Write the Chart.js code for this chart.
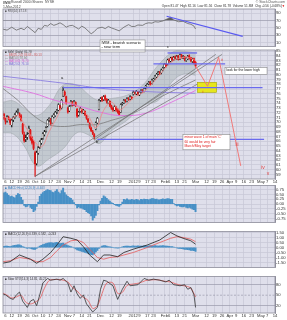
<!DOCTYPE html>
<html>
<head>
<meta charset="utf-8">
<title>IWM - bearish scenario</title>
<script src="https://cdn.jsdelivr.net/npm/chart.js@4.4.1/dist/chart.umd.min.js"></script>
<style>
  html, body { margin: 0; padding: 0; background: #ffffff; }
  #wrap { position: relative; width: 287px; height: 320px; overflow: hidden; }
  #wrap canvas { position: absolute; left: 0; }
</style>
</head>
<body>
<div id="wrap">
  <canvas id="rsiChart" width="287" height="50" style="top:0px"></canvas>
  <canvas id="priceChart" width="287" height="150" style="top:36px"></canvas>
  <canvas id="histChart" width="287" height="44" style="top:182px"></canvas>
  <canvas id="macdChart" width="287" height="43" style="top:228px"></canvas>
  <canvas id="stoChart" width="287" height="47" style="top:273px"></canvas>
</div>
<script>
// time axis: trading-day index, 0 = 1 Sep 2011, 124 = 1 Mar 2012
const tickIdx = [2, 6, 11, 16, 21, 26, 31, 36, 42, 46, 51, 56, 63, 70, 75, 84, 88, 93, 97, 104, 107, 112, 117, 124, 131, 136, 141, 146, 150, 155, 160, 166, 170, 175];
const tickLbl = ["6", "12", "19", "26", "Oct", "10", "17", "24", "Nov", "7", "14", "21", "Dec", "12", "19", "2012", "9", "17", "23", "Feb", "6", "13", "21", "Mar", "12", "19", "26", "Apr", "9", "16", "23", "May", "7", "14"];

// daily candles
const openP = [72.4,71.7,70.6,70.3,71.0,70.6,69.4,70.5,71.0,71.5, 72.3,71.8,71.4,69.6,67.4,66.4,66.9,67.8,68.3,66.8, 65.8,63.6,61.3,63.5,64.8,65.6,66.7,67.4,68.2,69.2, 70.5,70.6,69.9,71.1,71.4,72.2,72.6,73.5,73.0,75.6, 76.4,75.4,73.0,72.4,73.6,74.2,73.8,74.2,72.8,71.5, 72.3,72.7,72.0,72.3,71.4,70.7,69.7,68.8,68.0,67.4, 68.6,69.9,72.8,74.7,75.2,74.8,75.5,74.9,74.1,74.4, 73.5,73.0,72.6,73.2,72.7,72.3,72.1,73.8,74.1,74.6, 74.5,75.1,74.9,75.3,75.9,76.2,76.0,76.4,75.8,76.3, 76.8,76.6,77.2,77.5,78.1,78.5,78.2,78.8,79.2,79.6, 80.2,80.6,80.4,81.0,81.6,82.3,82.2,83.1,82.9,83.6, 83.2,83.8,83.4,84.0,83.4,84.1,83.6,83.8,83.0,83.4, 84.0,83.6,82.8,83.4,82.6];
const highP = [72.6,71.9,70.9,71.4,71.3,70.7,70.6,71.2,71.8,72.4, 72.8,72.0,71.6,69.8,67.9,67.3,67.8,69.2,68.5,67.0, 66.1,63.9,63.9,64.9,66.1,66.6,67.8,68.3,69.1,70.6, 71.0,70.8,71.4,71.8,72.3,72.7,73.9,73.6,74.8,77.4, 76.6,75.5,73.2,73.5,74.6,74.4,74.6,74.3,72.9,72.3, 73.1,72.8,72.7,72.4,71.5,70.8,69.9,69.0,68.3,67.6, 70.1,71.0,74.8,75.2,75.4,75.6,75.7,75.0,74.8,74.5, 73.6,73.2,73.5,73.3,72.9,72.4,73.9,74.2,74.8,74.8, 75.2,75.2,75.6,75.4,76.6,76.4,76.7,76.5,76.5,76.9, 76.9,77.3,77.8,78.2,78.6,78.6,79.1,79.3,79.9,80.3, 80.7,80.7,81.2,81.6,82.4,82.4,83.3,83.4,83.7,83.8, 83.9,84.0,84.1,84.1,84.4,84.3,84.1,83.9,83.7,84.1, 84.2,83.7,83.5,83.5,82.8];
const lowP = [71.5,70.6,69.6,70.0,70.5,69.5,69.0,70.1,70.8,71.3, 71.9,71.0,70.2,67.5,65.8,65.9,66.4,67.6,66.2,65.4, 64.2,58.6,61.0,63.2,64.5,65.3,66.4,67.1,67.9,69.0, 70.1,69.4,69.8,70.9,71.2,71.8,72.4,72.6,72.8,75.4, 75.5,73.8,71.9,72.2,73.4,73.4,73.5,73.3,71.0,71.3, 72.1,71.9,71.8,71.4,70.6,69.9,68.7,68.0,67.4,66.5, 68.4,69.7,72.6,74.4,74.4,74.6,74.6,74.0,73.9,73.3, 72.7,72.3,72.4,72.3,71.9,71.4,72.0,73.6,73.9,74.2, 74.3,74.6,74.7,74.8,75.7,75.9,75.8,75.7,75.6,76.1, 76.3,76.4,77.0,77.3,77.9,77.8,78.0,78.6,79.0,79.4, 80.0,80.0,80.2,80.8,81.4,81.6,82.0,82.6,82.7,82.9, 83.0,83.3,83.2,83.1,83.2,83.5,83.4,82.9,82.8,83.2, 83.3,82.7,82.6,82.3,81.6];
const closeP = [71.8,70.8,70.1,71.2,70.8,69.9,70.4,71.0,71.6,72.1, 72.3,71.6,70.4,67.8,66.1,66.7,67.4,68.7,66.5,65.7, 64.4,61.2,63.6,64.6,65.9,66.3,67.6,68.0,68.9,70.4, 70.8,69.7,71.2,71.6,72.1,72.5,73.7,72.9,74.6,76.7, 75.7,74.0,72.1,73.3,74.4,73.7,74.4,73.5,71.2,72.1, 72.9,72.1,72.5,71.6,70.8,70.1,68.9,68.2,67.6,66.9, 69.9,70.8,74.6,75.0,74.6,75.4,74.8,74.2,74.6,73.5, 72.9,72.5,73.3,72.5,72.1,71.6,73.7,74.0,74.6,74.4, 75.0,74.8,75.4,75.0,76.3,76.1,76.5,75.9,76.3,76.7, 76.5,77.1,77.6,78.0,78.4,78.0,78.9,79.1,79.7,80.1, 80.5,80.3,81.0,81.4,82.2,81.8,83.1,82.9,83.5,83.1, 83.7,83.5,83.9,83.3,84.2,83.7,83.9,83.1,83.5,83.9, 83.5,82.9,83.3,82.5,81.8];

// overlays on the price panel (sparse readings)
const bbIdx = [0, 7, 14, 22, 30, 39, 48, 56, 62, 70, 80, 90, 100, 110, 117, 124];
const bbUpper = [74.2, 74.5, 72.9, 71.4, 73.5, 77.8, 77.8, 75.6, 74.6, 75.0, 75.7, 77.8, 82.0, 84.9, 84.9, 84.6];
const bbLower = [67.8, 67.5, 65.0, 60.8, 62.3, 64.4, 67.8, 67.2, 65.5, 68.2, 70.4, 73.5, 74.6, 78.9, 80.2, 79.9];
const fastIdx = [0, 5, 10, 15, 20, 25, 30, 35, 40, 45, 50, 55, 60, 65, 70, 75, 80, 85, 90, 95, 100, 105, 110, 115, 120, 124];
const fastMa = [71.3, 70.7, 71.4, 69.0, 66.3, 64.8, 68.0, 71.0, 74.0, 74.0, 72.9, 71.4, 68.8, 72.5, 74.2, 72.6, 73.8, 75.4, 76.2, 77.7, 79.6, 81.6, 83.0, 83.6, 83.6, 83.0];
const ma50Idx = [0, 10, 20, 30, 40, 50, 60, 70, 80, 90, 100, 110, 124];
const ma50 = [77.2, 74.6, 71.4, 69.5, 69.1, 69.5, 69.5, 70.4, 71.4, 72.9, 75.0, 76.7, 78.9];
const ma100Idx = [0, 20, 34, 48, 63, 76, 92, 111, 124];
const ma100 = [77.6, 76.1, 74.6, 73.5, 72.1, 71.4, 71.9, 74.6, 76.7];
const ma200Idx = [0, 40, 62, 90, 124];
const ma200 = [79.7, 78.2, 77.2, 76.5, 76.1];

// drawn annotations
const levelVal = [77.3, 66.4, 84.6, 82.3];
const levelFrom = [39, 61, 106, 97];
const levelTo = [167, 168, 125, 143];
const trendFrom = [[21, 58.6], [59, 66.3], [21, 58.6]];
const trendTo = [[141, 84.3], [137, 84.3], [125, 78.0]];
const projIdx = [124, 131.7, 138.8, 153];
const projVal = [81.8, 77.6, 83.7, 60.8];
const zoneIdx = [125.3, 137.5];
const zoneVal = [78.4, 76.3];

// RSI panel
const rsiIdx = [0, 3, 6, 9, 12, 14, 16, 19, 21, 23, 25, 27, 29, 31, 33, 35, 37, 39, 41, 43, 45, 47, 49, 51, 53, 55, 57, 59, 61, 64, 66, 68, 70, 72, 75, 78, 81, 83, 85, 87, 90, 92, 94, 96, 98, 100, 103, 106, 108, 110, 113, 116, 119, 121, 123, 124];
const rsiVal = [47, 44, 52, 44, 49, 45, 54, 44, 37, 49, 46, 57, 55, 62, 57, 60, 64, 59, 52, 56, 57, 52, 47, 55, 50, 42, 34, 40, 49, 52, 48, 54, 50, 47, 42, 52, 59, 54, 54, 58, 57, 62, 64, 63, 67, 66, 69, 75, 79, 72, 67, 68, 62, 60, 55, 47];
const rsiTrendIdx = [105.4, 154.3];
const rsiTrendVal = [82, 27];

// histogram panel
const histVal = [0.50,0.58,0.62,0.55,0.45,0.39,0.42,0.36,0.32,0.45,0.54,0.50,0.35, 0.20,-0.08,-0.15,-0.12,-0.05,-0.18,-0.25,-0.40,-0.32,-0.13,0.10, 0.40,0.52,0.60,0.66,0.70,0.75,0.72,0.70,0.62,0.60,0.68,0.75,0.62,0.55,0.70,0.83,0.60,0.48,0.40,0.34,0.30,0.20, 0.08,-0.05,-0.20,-0.15,-0.20,-0.22,-0.27,-0.30,-0.40,-0.45,-0.50,-0.62,-0.85,-0.72,-0.60,-0.35,-0.05, 0.15,0.30,0.43,0.38,0.30,0.22,0.15,0.08,0.03,-0.04,-0.08,-0.10,-0.12,-0.05,0.10,0.25,0.22, 0.27,0.22,0.20,0.24,0.22,0.20,0.24,0.22,0.18,0.25,0.23,0.26,0.24,0.25,0.22,0.26,0.28,0.28,0.24,0.26,0.22,0.22,0.25,0.27,0.24,0.26,0.28,0.27,0.25,0.25, 0.02,-0.05,-0.10,-0.08,-0.12,-0.15,-0.15,-0.13,-0.18,-0.20,-0.18,-0.22,-0.27,-0.30,-0.40];

// MACD panel
const macdIdx = [0, 5, 11, 18, 22, 26, 31, 35, 39, 44, 48, 52, 56, 61, 65, 69, 74, 78, 84, 93, 101, 108, 112, 116, 121, 124];
const macdLine = [-1.58, -1.42, -0.75, -1.17, -1.58, -1.17, -0.5, 0.25, 1.08, 0.92, 0.75, 0.08, -0.75, -1.42, -0.75, -0.75, -0.92, -0.5, -0.17, 0.25, 0.75, 1.5, 1.17, 0.92, 0.67, 0.33];
const signalLine = [-1.42, -1.33, -1.0, -1.17, -1.42, -1.42, -1.0, -0.33, 0.25, 0.67, 0.75, 0.5, -0.17, -1.0, -1.17, -1.0, -0.92, -0.75, -0.5, 0.0, 0.5, 0.92, 1.08, 1.0, 0.83, 0.58];
const macdHist = [0.10,0.12,0.15,0.14,0.12,0.10,0.14,0.18,0.22,0.25,0.28,0.26,0.20, 0.10,0.02,-0.05,-0.08,-0.04,-0.10,-0.15,-0.20,-0.18,-0.08,0.05, 0.15,0.22,0.30,0.35,0.40,0.45,0.48,0.50,0.48,0.45,0.50,0.52,0.45,0.40,0.42,0.45,0.35,0.28,0.20,0.15,0.10,0.05, -0.05,-0.15,-0.25,-0.30,-0.35,-0.40,-0.45,-0.50,-0.55,-0.60,-0.65,-0.72,-0.75,-0.62,-0.45,-0.30,-0.10, 0.05,0.15,0.20,0.18,0.15,0.10,0.06,0.02,0.00,-0.03,-0.05,-0.06,-0.05,0.00,0.06,0.12,0.14, 0.15,0.14,0.12,0.15,0.16,0.15,0.14,0.16,0.15,0.13,0.15,0.16,0.17,0.15,0.16,0.18,0.17,0.16,0.18,0.17,0.15,0.16,0.17,0.18,0.16,0.15,0.14,0.12,0.10,0.08, 0.04,0.00,-0.05,-0.08,-0.10,-0.12,-0.15,-0.18,-0.20,-0.22,-0.25,-0.28,-0.30,-0.32,-0.38];

// slow stochastics panel
const stoKIdx = [0, 2, 5, 7, 9, 11, 13, 16, 18, 20, 22, 24, 26, 29, 31, 35, 37, 39, 42, 44, 46, 48, 50, 52, 54, 58, 61, 63, 65, 67, 71, 74, 77, 80, 82, 87, 91, 94, 97, 101, 105, 107, 110, 114, 117, 119, 121, 123, 124];
const stoK = [54, 51, 41, 38, 51, 59, 33, 15, 33, 38, 20, 51, 85, 98, 93, 96, 93, 98, 85, 59, 77, 54, 41, 51, 25, 2, 15, 67, 93, 90, 77, 38, 67, 90, 77, 80, 98, 93, 96, 93, 88, 93, 80, 77, 80, 67, 72, 51, 15];
const stoDIdx = [0, 3, 6, 9, 12, 15, 18, 21, 24, 27, 30, 34, 38, 42, 45, 48, 51, 55, 58, 61, 64, 67, 71, 74, 77, 80, 84, 88, 92, 96, 100, 104, 108, 111, 115, 118, 121, 124];
const stoD = [57, 50, 42, 45, 50, 30, 25, 30, 40, 70, 92, 95, 94, 88, 72, 62, 47, 35, 12, 20, 55, 85, 85, 55, 58, 78, 82, 85, 92, 94, 94, 90, 88, 83, 78, 76, 70, 45];

const priceTicks = [59, 60, 61, 62, 63, 64, 65, 66, 67, 68, 69, 70, 71, 72, 73, 74, 75, 76, 77, 78, 79, 80, 81, 82, 83, 84, 85];

const PANEL_BG = "#dfdfeb";
const GRID = "#c7c7d6";
const FONT = "'Liberation Sans', Arial, sans-serif";

const pts = (xs, ys) => xs.map((x, i) => ({ x: x, y: ys[i] }));
const daily = (vals) => vals.map((v, i) => ({ x: i, y: v }));

function text(ctx, str, x, y, color, size, align) {
  ctx.fillStyle = color;
  ctx.font = size + "px " + FONT;
  ctx.textAlign = align || "left";
  ctx.textBaseline = "middle";
  ctx.fillText(str, x, y);
}

function noteBox(ctx, x1, y1, x2, y2, lines, color, size, pitch) {
  ctx.fillStyle = "#ffffff";
  ctx.fillRect(x1, y1, x2 - x1, y2 - y1);
  ctx.strokeStyle = "#8a8a8a";
  ctx.lineWidth = 0.6;
  ctx.strokeRect(x1, y1, x2 - x1, y2 - y1);
  lines.forEach((s, k) => text(ctx, s, x1 + 1.5, y1 + 2.6 + k * pitch, color, size));
}

const panelBg = {
  id: "panelBg",
  beforeDraw(chart) {
    const { ctx, chartArea: a } = chart;
    ctx.save();
    ctx.fillStyle = PANEL_BG;
    ctx.fillRect(a.left, a.top, a.right - a.left, a.bottom - a.top);
    ctx.restore();
  },
  afterDraw(chart) {
    const { ctx, chartArea: a } = chart;
    ctx.save();
    ctx.strokeStyle = "#8c8c9a";
    ctx.lineWidth = 0.8;
    ctx.strokeRect(a.left, a.top, a.right - a.left, a.bottom - a.top);
    ctx.restore();
  }
};
Chart.register(panelBg);

function timeAxis(withLabels) {
  return {
    type: "linear", min: 0.4, max: 175, offset: false,
    afterBuildTicks: (s) => { s.ticks = tickIdx.map((v) => ({ value: v })); },
    afterFit: (s) => { s.height = withLabels ? 7 : 0; },
    grid: { color: GRID, lineWidth: 0.7, drawTicks: false, offset: false },
    border: { display: false },
    ticks: {
      display: withLabels, autoSkip: false, maxRotation: 0, padding: 0.5,
      color: "#333", font: { size: 4.2, family: FONT },
      callback: (v) => tickLbl[tickIdx.indexOf(v)]
    }
  };
}

function valueAxis(min, max, ticks, fmt, gridColor) {
  return {
    position: "right", min: min, max: max,
    afterBuildTicks: (s) => { s.ticks = ticks.map((v) => ({ value: v })); },
    afterFit: (s) => { s.width = 12; },
    grid: { color: gridColor || GRID, lineWidth: 0.7, drawTicks: false },
    border: { color: "#7a7a8c", width: 0.8 },
    ticks: { padding: 1, autoSkip: false, color: "#333", font: { size: 4.2, family: FONT }, callback: fmt }
  };
}

function baseOptions(top, scales) {
  return {
    responsive: false, animation: false, devicePixelRatio: 1, events: [],
    layout: { padding: { left: 3, right: 0, top: top, bottom: 0 } },
    plugins: { legend: { display: false }, tooltip: { enabled: false } },
    scales: scales
  };
}

function legend(ctx, area, rows) {
  rows.forEach((r, k) => text(ctx, r[0], area.left + 2, area.top + 2.2 + k * 2.9, r[1], 3));
}

// ---- RSI panel (with page header) ----
new Chart(document.getElementById("rsiChart"), {
  type: "line",
  data: {
    datasets: [
      { data: pts(rsiTrendIdx, rsiTrendVal), borderColor: "#5a5af0", borderWidth: 1.2, pointRadius: 0 },
      { data: pts(rsiIdx, rsiVal), borderColor: "#666", borderWidth: 0.8, pointRadius: 0,
        fill: { target: { value: 70 }, above: "#5c5c5c", below: "rgba(0,0,0,0)" } }
    ]
  },
  options: baseOptions(9, {
    x: timeAxis(false),
    y: valueAxis(-0.75, 101.75, [10, 30, 50, 70, 90], (v) => String(v),
      (c) => (c.tick && (c.tick.value === 30 || c.tick.value === 70)) ? "#9a9aaa" : GRID)
  }),
  plugins: [{
    id: "rsiNotes",
    afterDraw(chart) {
      const { ctx, chartArea } = chart;
      ctx.save();
      text(ctx, "IWM", 3, 2.5, "#000", 3.6);
      text(ctx, "Russell 2000 iShares  NYSE", 11, 2.5, "#444", 3.4);
      text(ctx, "© StockCharts.com", 285, 2.5, "#555", 3.4, "right");
      text(ctx, "1-Mar-2012", 3, 6.6, "#444", 3.4);
      text(ctx, "Open 81.47  High 82.16  Low 81.56  Close 81.78  Volume 51.8M  Chg -0.56 (-0.68%)", 282, 6.6, "#333", 3.2, "right");
      text(ctx, "▼", 285, 6.6, "#d00", 3.2, "right");
      legend(ctx, chartArea, [["■ RSI(14) 47.18", "#555"]]);
      ctx.restore();
    }
  }]
});

// ---- price panel ----
const isDown = closeP.map((c, i) => c < openP[i]);
const bodyFill = isDown.map((d) => (d ? "#e01818" : "#f4f4f4"));
const candleLine = isDown.map((d) => (d ? "#e01818" : "#1a1a1a"));
const priceSets = [
  { type: "line", data: pts(projIdx, projVal), borderColor: "#f07a7a", borderWidth: 1, pointRadius: 0, order: 1 }
];
levelVal.forEach((lv, k) => priceSets.push({
  type: "line", data: [{ x: levelFrom[k], y: lv }, { x: levelTo[k], y: lv }],
  borderColor: "#6a6aee", borderWidth: 1.3, pointRadius: 0, order: 2
}));
trendFrom.forEach((p, k) => priceSets.push({
  type: "line", data: [{ x: p[0], y: p[1] }, { x: trendTo[k][0], y: trendTo[k][1] }],
  borderColor: "#707070", borderWidth: 0.7, pointRadius: 0, order: 3
}));
priceSets.push(
  { type: "line", data: pts(fastIdx, fastMa), borderColor: "#f08484", borderWidth: 0.8, pointRadius: 0, tension: 0.4, order: 4 },
  { type: "line", data: pts(ma50Idx, ma50), borderColor: "#7c7c7c", borderWidth: 0.8, pointRadius: 0, tension: 0.4, order: 5 },
  { type: "line", data: pts(ma100Idx, ma100), borderColor: "#e070e0", borderWidth: 0.9, pointRadius: 0, tension: 0.4, order: 5 },
  { type: "line", data: pts(ma200Idx, ma200), borderColor: "#8a7ee0", borderWidth: 0.9, pointRadius: 0, tension: 0.4, order: 5 },
  { type: "bar", data: closeP.map((c, i) => ({ x: i, y: [openP[i], c] })), backgroundColor: bodyFill,
    borderColor: candleLine, borderWidth: 0.5, barThickness: 1.6, minBarLength: 0.8, grouped: false, order: 6 },
  { type: "bar", data: closeP.map((c, i) => ({ x: i, y: [lowP[i], highP[i]] })), backgroundColor: candleLine,
    barThickness: 0.6, grouped: false, order: 6 },
  { type: "line", data: pts(bbIdx, bbUpper), borderColor: "#a4aaae", borderWidth: 0.6, pointRadius: 0, tension: 0.4,
    fill: "+1", backgroundColor: "rgba(150,165,165,0.38)", order: 9 },
  { type: "line", data: pts(bbIdx, bbLower), borderColor: "#a4aaae", borderWidth: 0.6, pointRadius: 0, tension: 0.4, order: 9 }
);

new Chart(document.getElementById("priceChart"), {
  type: "bar",
  data: { datasets: priceSets },
  options: baseOptions(14, {
    x: timeAxis(true),
    y: valueAxis(58.04, 85.22, priceTicks, (v) => String(v))
  }),
  plugins: [{
    id: "priceNotes",
    beforeDatasetsDraw(chart) {
      const { ctx } = chart;
      const x = chart.scales.x, y = chart.scales.y;
      const x1 = x.getPixelForValue(zoneIdx[0]), x2 = x.getPixelForValue(zoneIdx[1]);
      const y1 = y.getPixelForValue(zoneVal[0]), y2 = y.getPixelForValue(zoneVal[1]);
      ctx.save();
      ctx.fillStyle = "#e6e61c";
      ctx.fillRect(x1, y1, x2 - x1, y2 - y1);
      ctx.strokeStyle = "#a6a600";
      ctx.lineWidth = 0.6;
      ctx.strokeRect(x1, y1, x2 - x1, y2 - y1);
      ctx.restore();
    },
    afterDatasetsDraw(chart) {
      const { ctx, chartArea } = chart;
      const x = (v) => chart.scales.x.getPixelForValue(v);
      const y = (v) => chart.scales.y.getPixelForValue(v);
      ctx.save();
      legend(ctx, chartArea, [
        ["■ IWM (Daily) 81.78", "#333"],
        ["— BB(20,2.0) 84.63 - 80.13", "#d06060"],
        ["— MA(50) 78.94", "#777"],
        ["— MA(100) 76.70", "#d060d0"],
        ["— MA(200) 76.10", "#7d70d8"]
      ]);
      noteBox(ctx, x(62.7), y(87.34), x(91.6), y(84.8), ["IWM - bearish scenario", "- near term"], "#111", 3.8, 4.9);
      noteBox(ctx, x(142.9), y(81.5), x(169.9), y(80.1), ["look for the lower high"], "#111", 3.4, 4);
      noteBox(ctx, x(115.9), y(67.4), x(146.1), y(64.2), ["minor wave 1 of main 'C'", "60 would be very fair", "March/May target"], "#e02020", 3.4, 4.4);
      text(ctx, "a", x(38.3), y(79.3), "#222", 4.2, "center");
      text(ctx, "b", x(60.8), y(65.9), "#222", 4.2, "center");
      text(ctx, "c", x(106.3), y(85.9), "#222", 4.2, "center");
      text(ctx, "i", x(128.8), y(76.3), "#e02020", 4, "center");
      text(ctx, "ii", x(141), y(83.1), "#e04040", 4.4, "center");
      text(ctx, "iii", x(150.6), y(65.3), "#e04040", 4.6, "center");
      text(ctx, "iv", x(167.3), y(60.4), "#e04040", 5, "center");
      text(ctx, "v", x(170.5), y(59.1), "#e04040", 5, "center");
      ctx.restore();
    }
  }]
});

// ---- histogram panel ----
new Chart(document.getElementById("histChart"), {
  type: "bar",
  data: { datasets: [{ data: daily(histVal), backgroundColor: "#4790c6", barThickness: 1.3, grouped: false }] },
  options: baseOptions(0, {
    x: timeAxis(false),
    y: valueAxis(-0.965, 0.965, [-0.75, -0.5, -0.25, 0, 0.25, 0.5, 0.75], (v) => v.toFixed(2))
  }),
  plugins: [{
    id: "histNotes",
    afterDraw(chart) {
      chart.ctx.save();
      legend(chart.ctx, chart.chartArea, [["■ MACD Hist (12,26,9) -0.403", "#3a7fb8"]]);
      chart.ctx.restore();
    }
  }]
});

// ---- MACD panel ----
new Chart(document.getElementById("macdChart"), {
  type: "bar",
  data: {
    datasets: [
      { type: "line", data: pts(macdIdx, macdLine), borderColor: "#222", borderWidth: 0.8, pointRadius: 0, order: 1 },
      { type: "line", data: pts(macdIdx, signalLine), borderColor: "#e55a5a", borderWidth: 0.8, pointRadius: 0, order: 2 },
      { type: "bar", data: daily(macdHist), backgroundColor: "#4790c6", barThickness: 1.3, grouped: false, order: 3 }
    ]
  },
  options: baseOptions(0, {
    x: timeAxis(false),
    y: valueAxis(-2.0, 1.6, [-1.5, -1, -0.5, 0, 0.5, 1, 1.5], (v) => v.toFixed(2))
  }),
  plugins: [{
    id: "macdNotes",
    afterDraw(chart) {
      chart.ctx.save();
      legend(chart.ctx, chart.chartArea, [["■ MACD(12,26,9) 0.339, 0.582, -0.243", "#333"]]);
      chart.ctx.restore();
    }
  }]
});

// ---- slow stochastics panel ----
new Chart(document.getElementById("stoChart"), {
  type: "line",
  data: {
    datasets: [
      { data: pts(stoKIdx, stoK), borderColor: "#333", borderWidth: 0.8, pointRadius: 0 },
      { data: pts(stoDIdx, stoD), borderColor: "#e55a5a", borderWidth: 0.8, pointRadius: 0, tension: 0.3 }
    ]
  },
  options: baseOptions(0, {
    x: timeAxis(true),
    y: valueAxis(-0.9, 103.5, [20, 50, 80], (v) => String(v),
      (c) => (c.tick && c.tick.value === 50) ? "rgba(0,0,0,0)" : "#9a9aaa")
  }),
  plugins: [{
    id: "stoNotes",
    beforeDatasetsDraw(chart) {
      const { ctx, chartArea: a } = chart;
      const y50 = chart.scales.y.getPixelForValue(50);
      ctx.save();
      ctx.strokeStyle = "#9a9aaa";
      ctx.lineWidth = 0.7;
      ctx.setLineDash([2, 1.5]);
      ctx.beginPath();
      ctx.moveTo(a.left, y50);
      ctx.lineTo(a.right, y50);
      ctx.stroke();
      ctx.restore();
    },
    afterDraw(chart) {
      chart.ctx.save();
      legend(chart.ctx, chart.chartArea, [["■ Slow STO(14,3) 14.81, 45.27", "#333"]]);
      chart.ctx.restore();
    }
  }]
});
</script>
</body>
</html>
